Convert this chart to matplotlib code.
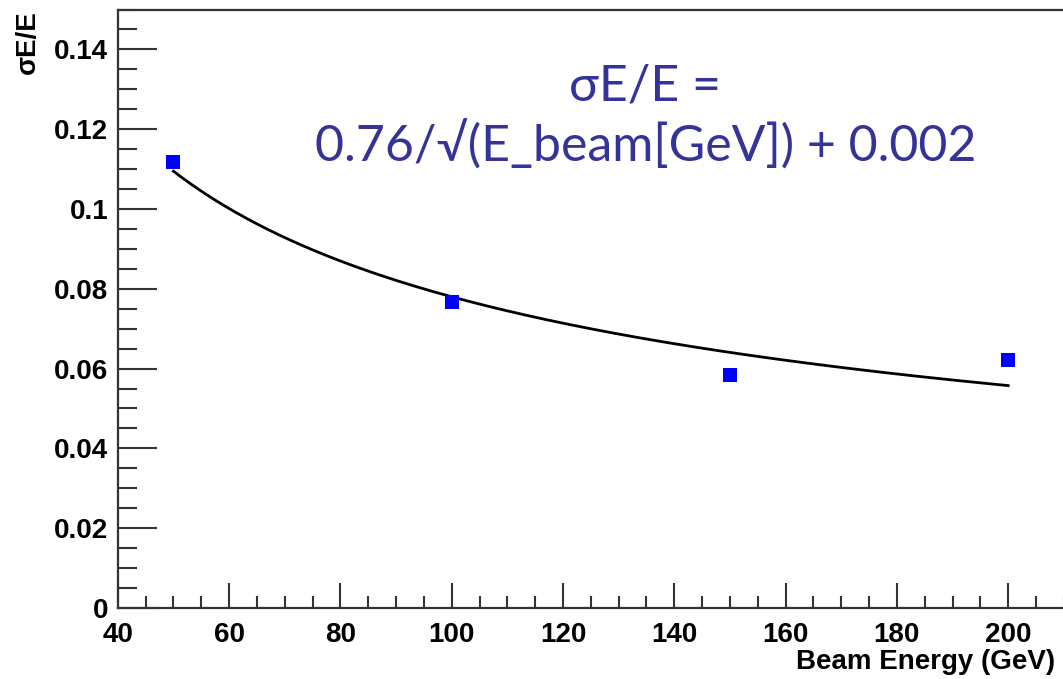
import numpy as np
import matplotlib
matplotlib.use("Agg")
import matplotlib.pyplot as plt
from matplotlib.ticker import MultipleLocator, FuncFormatter

# Measured resolution points
beam_energy = [50, 100, 150, 200]
resolution = [0.1118, 0.0767, 0.0585, 0.0622]

# Fit parameters shown in the annotation
fit_a = 0.76
fit_b = 0.002
fit_range = (50, 200)

fig = plt.figure(figsize=(10.63, 6.79), dpi=100)
ax = fig.add_axes([0.1108, 0.1046, 0.890, 0.8814])

# Fit curve
e_fit = np.linspace(fit_range[0], fit_range[1], 300)
ax.plot(e_fit, fit_a / np.sqrt(e_fit) + fit_b, color="black", lw=2.0, zorder=2)

# Data points
ax.plot(beam_energy, resolution, "s", color="#0000ff", markersize=10,
        markeredgewidth=0, zorder=3)

ax.set_xlim(40, 210)
ax.set_ylim(0, 0.15)

ax.xaxis.set_major_locator(MultipleLocator(20))
ax.xaxis.set_minor_locator(MultipleLocator(5))
ax.yaxis.set_major_locator(MultipleLocator(0.02))
ax.yaxis.set_minor_locator(MultipleLocator(0.005))
ax.yaxis.set_major_formatter(FuncFormatter(lambda v, p: "%g" % round(v, 4)))

ax.tick_params(axis="both", which="both", direction="in", color="#333333",
               width=1.5, top=False, right=False)
ax.tick_params(axis="y", which="major", length=28, pad=7)
ax.tick_params(axis="y", which="minor", length=14)
ax.tick_params(axis="x", which="major", length=18, pad=10)
ax.tick_params(axis="x", which="minor", length=9)

for lab in ax.get_xticklabels() + ax.get_yticklabels():
    lab.set_fontfamily("Liberation Sans")
    lab.set_fontweight("bold")
    lab.set_fontsize(20)

for side in ["left", "bottom", "top"]:
    ax.spines[side].set_linewidth(1.6)
    ax.spines[side].set_color("#333333")
ax.spines["right"].set_visible(False)

fig.text(0.993, 0.006, "Beam Energy (GeV)", ha="right", va="bottom",
         fontfamily="Liberation Sans", fontweight="bold", fontsize=20)
fig.text(0.026, 0.985, "σE/E", ha="center", va="top", rotation=90,
         fontfamily="Liberation Sans", fontweight="bold", fontsize=20)

# Fit formula annotation
fig.text(0.607, 0.828, "σE/E =\n0.76/√(E_beam[GeV]) + 0.002",
         ha="center", va="center", color="#333399", fontsize=36,
         linespacing=1.25, fontfamily=["Lato", "DejaVu Sans"])

fig.savefig("out.png", dpi=100)
